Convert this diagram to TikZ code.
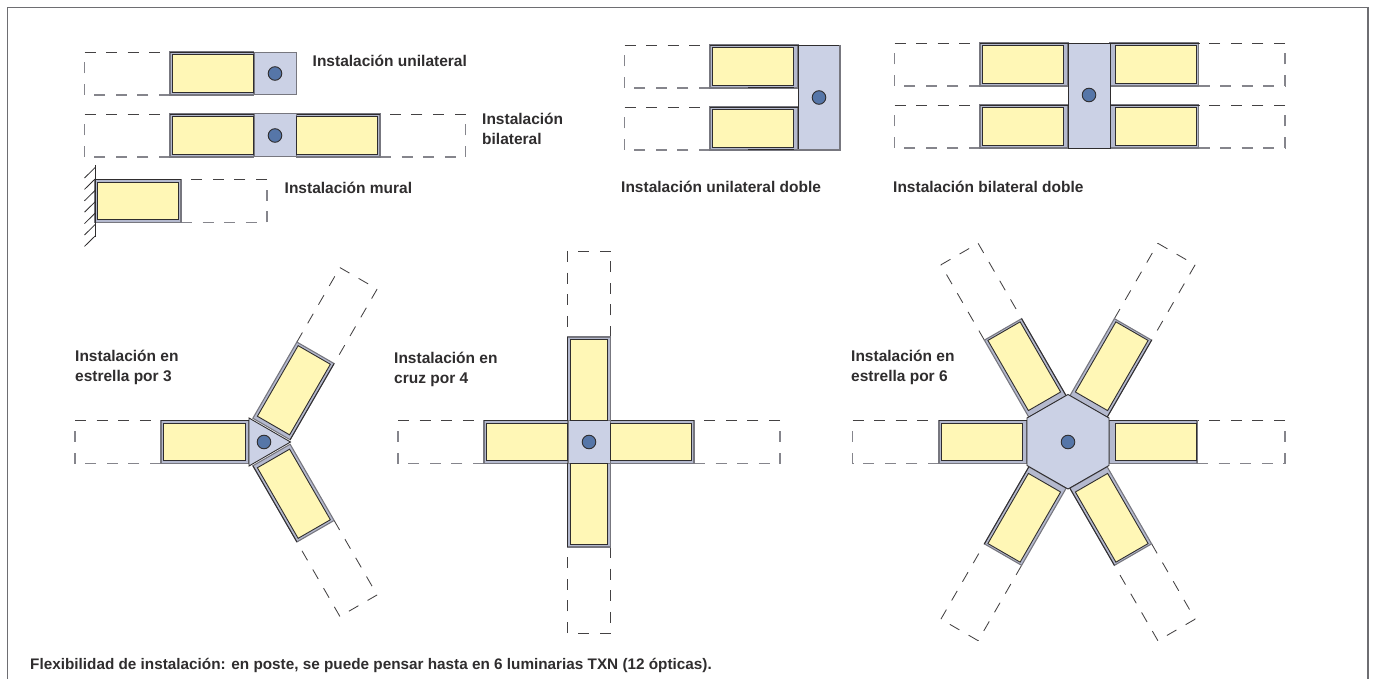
\documentclass[tikz,border=0pt]{standalone}
\usepackage{fontspec}
\setmainfont{Liberation Sans}
\definecolor{lampy}{HTML}{FFF7B6}
\definecolor{postb}{HTML}{CBD1E5}
\definecolor{stripb}{HTML}{B4B9CE}
\definecolor{dotb}{HTML}{5676A8}
\definecolor{inkd}{HTML}{2F2D2E}
\definecolor{greyl}{HTML}{77777F}
\definecolor{frameg}{HTML}{6E6E72}
\tikzset{
  lbl/.style={anchor=west,inner sep=0pt,font=\fontsize{15.5}{20}\selectfont\bfseries,text=inkd,align=left},
  dashline/.style={draw=inkd!90,line width=0.85pt,dash pattern=on 11pt off 10.6pt},
  bline/.style={draw=greyl!90,line width=1.3pt,dash pattern=on 11pt off 10.6pt},
  outerbox/.style={draw=greyl,line width=1.1pt,fill=stripb},
  lampbox/.style={draw=inkd,line width=0.9pt,fill=lampy},
  postbox/.style={draw=inkd,line width=0.9pt,fill=postb},
  postsoft/.style={draw=greyl,line width=1pt,fill=postb},
  pole/.style={draw=inkd,line width=0.9pt,fill=dotb},
}
% centre x, y, rotation, flip, outer start, outer end, lamp start, lamp end, dashed end
\newcommand\lumi[9]{%
  \begin{scope}[shift={(#1,#2)},rotate=#3,yscale=#4]
    \draw[dashline] (#9,-21.5) -- (#6,-21.5);
    \draw[bline] (#6,21.5) -- (#9,21.5);
    \draw[bline] (#9,21.5) -- (#9,-21.5);
    \draw[outerbox] (#5,-21.5) rectangle (#6,21.5);
    \draw[inkd,line width=0.9pt] (#5,-21.5) -- (#6,-21.5);
    \draw[lampbox] (#7,-18.6) rectangle (#8,18.6);
  \end{scope}}
\begin{document}
\begin{tikzpicture}[x=1pt,y=-1pt]
\useasboundingbox (0,0) rectangle (1374,679);
\draw[frameg,line width=1.4pt] (7.5,679) -- (7.5,7.5) -- (1368,7.5) -- (1368,679);

% unilateral
\draw[postsoft] (254,52.5) rectangle (296,95);
\lumi{275}{73.5}{180}{-1}{21.5}{105}{21.5}{102.5}{190.5}
\draw[pole] (275,73.5) circle (6.8);
% bilateral
\draw[postsoft] (254,114) rectangle (296,157);
\lumi{275}{135.5}{180}{-1}{21.5}{105}{21.5}{102.5}{190.5}
\lumi{275}{135.5}{0}{1}{21.5}{105}{21.5}{102.5}{190.5}
\draw[pole] (275,135.5) circle (6.8);
% mural
\lumi{95}{201}{0}{1}{0}{86}{2.5}{83.5}{172}
\draw[inkd,line width=1.1pt] (95.7,165) -- (95.7,237);
\foreach \yy in {167,178.4,189.8,201.2,212.6,224,235.4}
  \draw[inkd,line width=0.8pt] (95.7,\yy) -- (84.5,\yy+11);

% unilateral doble
\lumi{819}{66.5}{180}{-1}{21}{109}{25.5}{106.5}{194.5}
\lumi{819}{128.5}{180}{-1}{21}{109}{25.5}{106.5}{194.5}
\draw[inkd,line width=1.6pt] (748,87.7) -- (794,87.7) (748,149.7) -- (794,149.7);
\draw[postbox] (798,45) rectangle (840,150);
\draw[greyl,line width=1.1pt] (840,45) -- (840,150) -- (798,150);
\draw[pole] (819,97.5) circle (6.8);

% bilateral doble
\foreach \yy in {64.5,126.5}{
  \lumi{1089}{\yy}{180}{-1}{21}{109}{25.5}{106.5}{194.5}
  \lumi{1089}{\yy}{0}{1}{21}{109.5}{26}{107.7}{196}
}
\draw[postbox] (1068,43) rectangle (1110,148);
\draw[pole] (1089,95) circle (6.8);

% estrella 3
\lumi{264}{442}{180}{-1}{15}{103}{19}{100.5}{189}
\begin{scope}[bline/.style={dashline}]
\lumi{264}{442}{60}{-1}{15}{103}{19}{100.5}{189}
\lumi{264}{442}{-60}{-1}{15}{103}{19}{100.5}{189}
\end{scope}
\draw[postbox] (249,418) -- (290.5,442) -- (249,466) -- cycle;
\draw[pole] (264,442) circle (6.8);

% cruz 4
\draw[postsoft] (568,420.5) rectangle (610,463.5);
\lumi{589}{442}{180}{-1}{21.3}{105}{21.3}{102.5}{191}
\lumi{589}{442}{0}{1}{21.3}{105}{21.3}{102.5}{191}
\begin{scope}[bline/.style={dashline}]
\lumi{589}{442}{90}{1}{21.3}{105}{21.3}{102.5}{191}
\lumi{589}{442}{-90}{-1}{21.3}{105}{21.3}{102.5}{191}
\end{scope}
\draw[pole] (589,442) circle (6.8);

% estrella 6
\lumi{1068}{442}{180}{-1}{41}{129}{46}{127}{215.5}
\lumi{1068}{442}{0}{1}{41}{129}{47}{128}{217}
\begin{scope}[bline/.style={dashline}]
\lumi{1068}{442}{60}{-1}{41}{130}{47}{128}{217}
\lumi{1068}{442}{120}{-1}{41}{130}{47}{128}{217}
\lumi{1068}{442}{-60}{-1}{41}{130}{47}{128}{217}
\lumi{1068}{442}{-120}{-1}{41}{130}{47}{128}{217}
\end{scope}
\draw[postbox] (1068,394.5) -- (1109,418) -- (1109,465.5) -- (1068,489) -- (1027,465.5) -- (1027,418) -- cycle;
\draw[pole] (1068,442) circle (6.8);

% labels
\node[lbl] (t1) at (312.5,60.5) {Instalación unilateral};
\node[lbl] (t2) at (482,129) {Instalación\\bilateral};
\node[lbl] (t3) at (284.5,187.5) {Instalación mural};
\node[lbl] (t4) at (621,186.5) {Instalación unilateral doble};
\node[lbl] (t5) at (893,186.5) {Instalación bilateral doble};
\node[lbl] (t6) at (75,367.5) {Instalación en\\estrella por 3};
\node[lbl] (t7) at (394,369) {Instalación en\\cruz por 4};
\node[lbl] (t8) at (851,367.5) {Instalación en\\estrella por 6};
\node[lbl,font=\fontsize{15.3}{18}\selectfont\bfseries] (t9) at (30,665.5) {Flexibilidad de instalación: en poste, se puede pensar hasta en 6 luminarias TXN (12 ópticas).};
\end{tikzpicture}
\end{document}
